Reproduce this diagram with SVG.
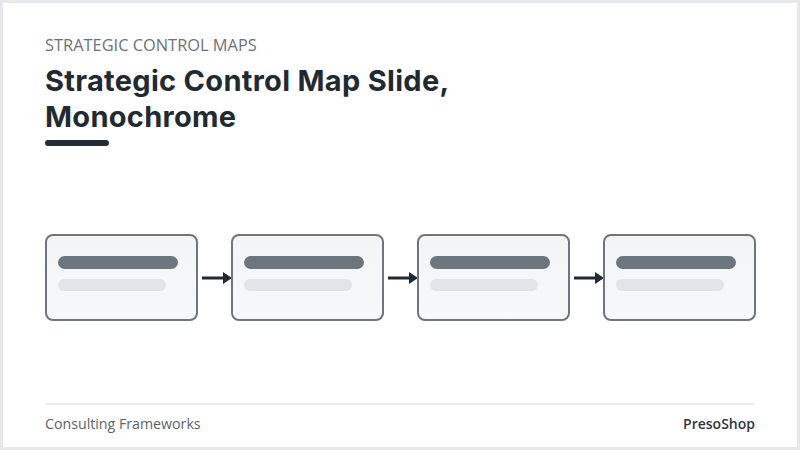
<svg xmlns="http://www.w3.org/2000/svg" width="800" height="450" viewBox="0 0 800 450">
<defs>
<style>
.box{fill:url(#boxfill);stroke:#6f757a;stroke-width:2}
.bar1{fill:#6b767f}
.bar2{fill:#e1e4e8}
.conn{stroke:#1f2a33;stroke-width:3;fill:none}
.kicker{font-family:"Open Sans","Liberation Sans",sans-serif;font-size:16.4px;fill:#6b7378}
.title{font-family:Inter,"Open Sans","Liberation Sans",sans-serif;font-size:29px;letter-spacing:0.3px;font-weight:700;fill:#1f2a33}
.foot{font-family:"Open Sans","Liberation Sans",sans-serif;font-size:14.2px;fill:#5b6268}
.brand{font-family:"Open Sans","Liberation Sans",sans-serif;font-size:14px;font-weight:600;fill:#2f363c}
</style>
<linearGradient id="boxfill" x1="0" y1="0" x2="0" y2="1">
<stop offset="0" stop-color="#f3f4f6"/>
<stop offset="1" stop-color="#f7f8fa"/>
</linearGradient>
</defs>
<rect x="0" y="0" width="800" height="450" fill="#e6e8eb"/>
<rect x="3" y="3" width="794" height="444" fill="#ffffff"/>
<g id="header">
<text class="kicker" x="45" y="51">STRATEGIC CONTROL MAPS</text>
<text class="title" x="45" y="91">Strategic Control Map Slide,</text>
<text class="title" x="45" y="127">Monochrome</text>
<rect x="45" y="140" width="64" height="6" rx="3" fill="#222d36"/>
</g>
<g id="connectors">
<line class="conn" x1="202" y1="278" x2="225" y2="278"/>
<line class="conn" x1="388" y1="278" x2="411" y2="278"/>
<line class="conn" x1="574" y1="278" x2="597" y2="278"/>
<path d="M223,272 L232,278 L223,284 z" fill="#1f2a33"/>
<path d="M409,272 L418,278 L409,284 z" fill="#1f2a33"/>
<path d="M595,272 L604,278 L595,284 z" fill="#1f2a33"/>
</g>
<g id="node1">
<rect class="box" x="46" y="235" width="151" height="85" rx="7"/>
<rect class="bar1" x="58" y="256" width="120" height="13" rx="6.5"/>
<rect class="bar2" x="58" y="279" width="108" height="12" rx="6"/>
</g>
<g id="node2">
<rect class="box" x="232" y="235" width="151" height="85" rx="7"/>
<rect class="bar1" x="244" y="256" width="120" height="13" rx="6.5"/>
<rect class="bar2" x="244" y="279" width="108" height="12" rx="6"/>
</g>
<g id="node3">
<rect class="box" x="418" y="235" width="151" height="85" rx="7"/>
<rect class="bar1" x="430" y="256" width="120" height="13" rx="6.5"/>
<rect class="bar2" x="430" y="279" width="108" height="12" rx="6"/>
</g>
<g id="node4">
<rect class="box" x="604" y="235" width="151" height="85" rx="7"/>
<rect class="bar1" x="616" y="256" width="120" height="13" rx="6.5"/>
<rect class="bar2" x="616" y="279" width="108" height="12" rx="6"/>
</g>
<g id="footer">
<line x1="45" y1="404" x2="755" y2="404" stroke="#e3e5e8" stroke-width="1.5"/>
<text class="foot" x="45" y="429">Consulting Frameworks</text>
<text class="brand" x="755" y="429" text-anchor="end">PresoShop</text>
</g>
</svg>
